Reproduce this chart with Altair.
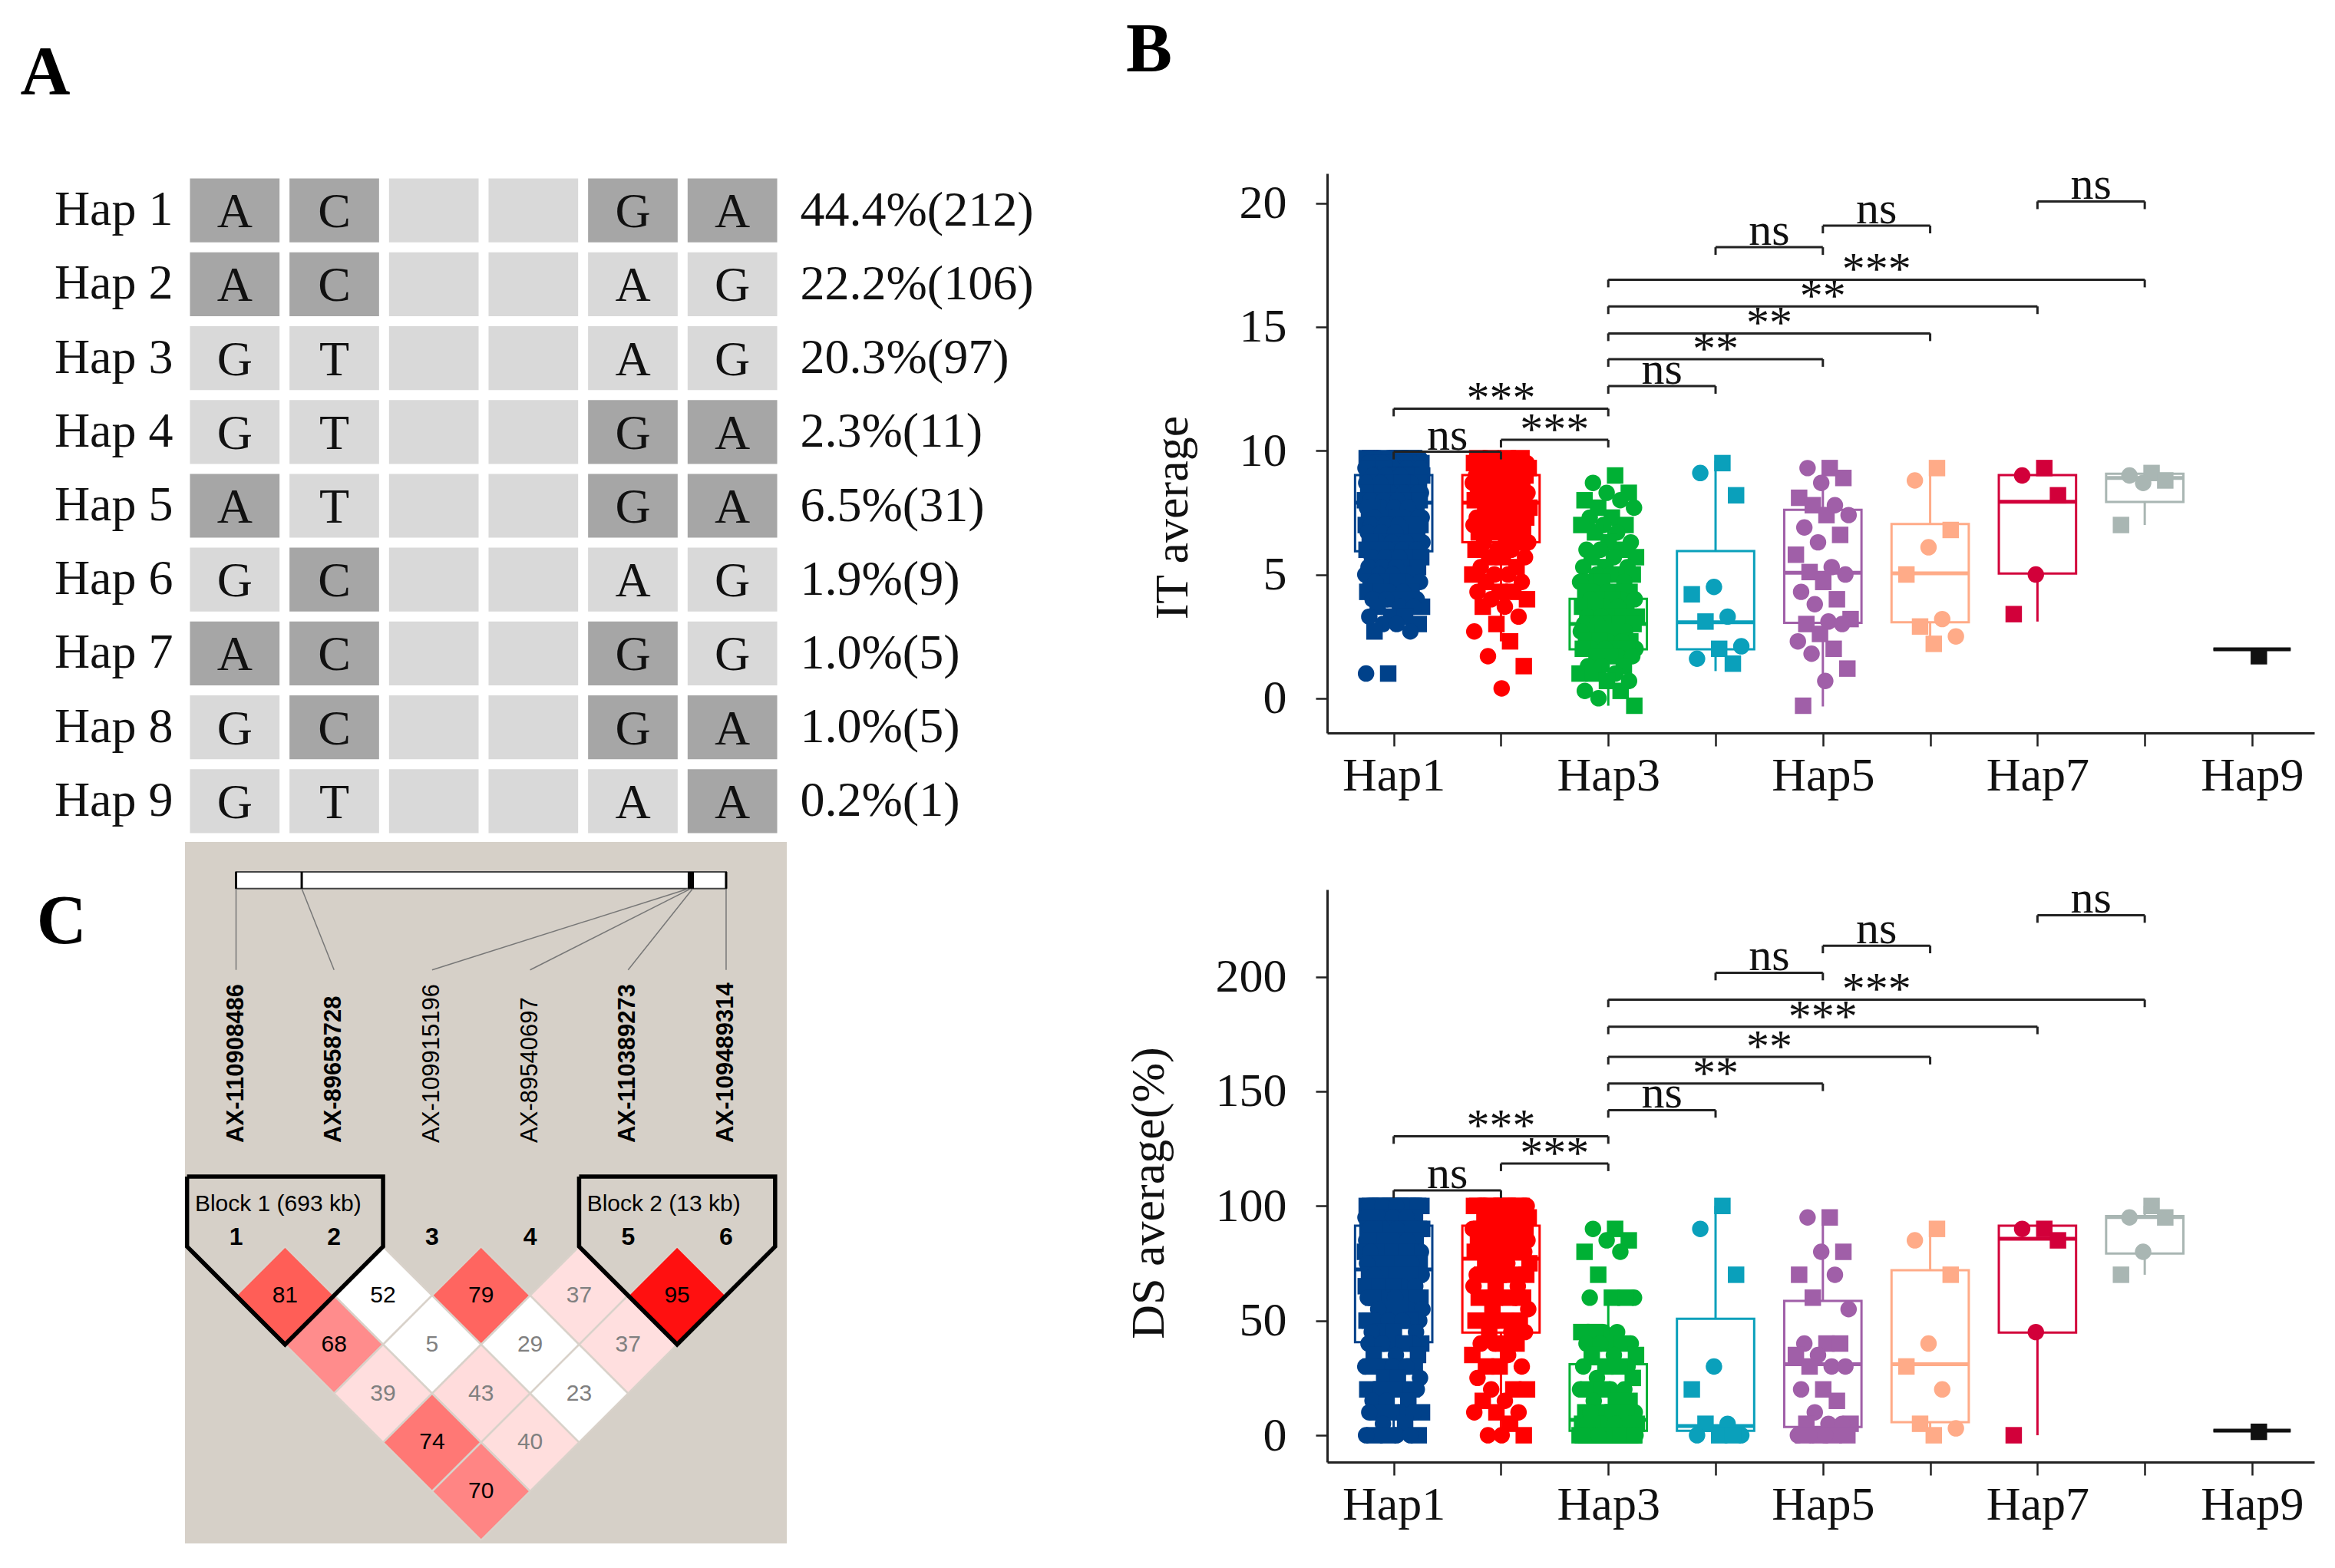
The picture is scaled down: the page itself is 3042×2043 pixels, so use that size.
import altair as alt
import pandas as pd

SERIF = "Liberation Serif"
SANS = "Liberation Sans"

# ---------------- Panel A : haplotype table ----------------
HAP_NAMES = ["Hap 1", "Hap 2", "Hap 3", "Hap 4", "Hap 5", "Hap 6", "Hap 7", "Hap 8", "Hap 9"]
HAP_ALLELES = ["AC--GA", "AC--AG", "GT--AG", "GT--GA", "AT--GA", "GC--AG", "AC--GG", "GC--GA", "GT--AA"]
DARK_ALLELE = ["A", "C", "", "", "G", "A"]
HAP_PCT = ["44.4", "22.2", "20.3", "2.3", "6.5", "1.9", "1.0", "1.0", "0.2"]
HAP_COUNT = [212, 106, 97, 11, 31, 9, 5, 5, 1]

# ---------------- Panel C : LD plot ----------------
SNP_IDS = ["AX-110908486", "AX-89658728", "AX-109915196", "AX-89540697", "AX-110389273", "AX-109489314"]
SNP_IN_BLOCK = [True, True, False, False, True, True]
SNP_BAR_POS = [1.0, 1.67, 5.62, 5.64, 5.66, 6.0]
LD_FIRST = [1, 2, 3, 4, 5, 1, 2, 3, 4, 1, 2, 3, 1, 2, 1]
LD_SECOND = [2, 3, 4, 5, 6, 3, 4, 5, 6, 4, 5, 6, 5, 6, 6]
LD_DPRIME = [81, 52, 79, 37, 95, 68, 5, 29, 37, 39, 43, 23, 74, 40, 70]
LD_STRONG = [True, False, True, True, True, True, False, False, True, True, True, False, True, True, True]
BLOCK_FIRST = [1, 5]
BLOCK_LAST = [2, 6]
BLOCK_KB = [693, 13]

# ---------------- Panel B : box plots ----------------
BOX_HAPS = ["Hap1", "Hap2", "Hap3", "Hap4", "Hap5", "Hap6", "Hap7", "Hap8", "Hap9"]
HAP_COLORS = ["#00418a", "#ff0000", "#00b034", "#0aa0bb", "#a05fa8", "#ffab88", "#d2003a", "#a9b6b3", "#111111"]

IT_HAP1_VALUES = [9.7, 9.5, 9.3, 9.0, 8.7, 8.3, 8.0, 7.7, 7.3, 7.0, 6.7, 6.3, 6.0, 5.7, 5.3, 5.0, 4.7, 4.3, 4.0, 3.7, 3.3, 3.0, 2.7, 1.0]
IT_HAP1_COUNTS = [14, 14, 14, 14, 14, 14, 14, 10, 12, 12, 8, 10, 10, 6, 8, 8, 6, 5, 5, 4, 3, 3, 2, 2]
IT_HAP2_VALUES = [9.7, 9.5, 9.3, 9.0, 8.7, 8.3, 8.0, 7.7, 7.3, 7.0, 6.7, 6.3, 6.0, 5.7, 5.3, 5.0, 4.7, 4.3, 4.0, 3.7, 3.3, 3.0, 2.7, 2.3, 1.7, 1.3, 0.4]
IT_HAP2_COUNTS = [7, 7, 8, 8, 8, 7, 7, 6, 6, 6, 5, 4, 3, 3, 2, 3, 2, 3, 2, 2, 1, 1, 1, 1, 1, 1, 1]
IT_HAP3_VALUES = [9.0, 8.7, 8.3, 8.0, 7.7, 7.3, 7.0, 6.7, 6.3, 6.0, 5.7, 5.3, 5.0, 4.7, 4.3, 4.0, 3.7, 3.3, 3.0, 2.7, 2.3, 2.0, 1.7, 1.3, 1.0, 0.7, 0.3, 0.0, -0.3]
IT_HAP3_COUNTS = [1, 1, 2, 2, 2, 2, 3, 2, 2, 3, 3, 3, 4, 4, 5, 5, 5, 6, 8, 6, 6, 6, 4, 3, 3, 2, 2, 1, 1]
IT_HAP4 = [9.5, 9.1, 8.2, 4.5, 4.2, 3.3, 3.1, 2.1, 2.0, 1.6, 1.4]
IT_HAP5 = [9.3, 9.3, 8.9, 8.7, 8.1, 7.8, 7.8, 7.4, 7.4, 6.9, 6.6, 6.3, 5.8, 5.3, 5.1, 5.0, 4.7, 4.3, 4.0, 3.8, 3.2, 3.1, 3.0, 3.0, 2.6, 2.3, 2.0, 1.8, 1.2, 0.7, -0.3]
IT_HAP6 = [9.3, 8.8, 6.8, 6.1, 5.0, 3.2, 2.9, 2.5, 2.2]
IT_HAP7 = [9.3, 9.0, 8.2, 5.0, 3.4]
IT_HAP8 = [9.1, 9.0, 8.8, 8.7, 7.0]
IT_HAP9 = [1.7]

IT_Q1 = [5.94, 6.3, 1.98, 1.98, 3.05, 3.07, 5.04, 7.93, 1.98]
IT_MED = [7.9, 7.9, 3.0, 3.07, 5.07, 5.05, 7.94, 8.9, 1.98]
IT_Q3 = [9.02, 9.02, 4.02, 5.95, 7.61, 7.04, 9.02, 9.07, 1.98]
IT_LO = [2.7, 2.3, -0.3, 1.1, -0.33, 2.2, 3.1, 7.0, 1.98]
IT_HI = [9.7, 9.7, 7.0, 9.6, 9.35, 9.35, 9.02, 9.1, 1.98]

DS_LEVELS = [100, 95, 90, 85, 80, 75, 70, 65, 60, 55, 50, 45, 40, 35, 30, 25, 20, 15, 10, 5, 0]
DS_HAP1_COUNTS = [30, 10, 25, 10, 20, 8, 18, 6, 14, 5, 12, 4, 10, 3, 9, 3, 8, 3, 6, 2, 6]
DS_HAP2_COUNTS = [18, 6, 14, 5, 10, 4, 8, 3, 6, 2, 5, 3, 4, 2, 3, 1, 3, 2, 3, 1, 3]
DS_HAP3_VALUES = [90, 85, 80, 70, 60, 45, 40, 35, 30, 25, 20, 15, 10, 5, 0]
DS_HAP3_COUNTS = [2, 2, 2, 1, 4, 4, 5, 3, 4, 2, 5, 3, 8, 12, 40]
DS_HAP4 = [100, 90, 70, 30, 20, 5, 5, 0, 0, 0, 0]
DS_HAP5 = [95, 95, 80, 80, 70, 70, 60, 55, 40, 40, 40, 35, 35, 30, 30, 30, 20, 20, 15, 10, 5, 5, 5, 5, 0, 0, 0, 0, 0, 0, 0]
DS_HAP6 = [90, 85, 70, 40, 30, 20, 5, 3, 0]
DS_HAP7 = [90, 90, 85, 45, 0]
DS_HAP8 = [100, 95, 95, 80, 70]
DS_HAP9 = [1.5]

DS_Q1 = [40.6, 44.8, 1.9, 1.9, 3.6, 5.7, 44.8, 79.3, 2.0]
DS_MED = [72.3, 77.0, 6.7, 4.0, 31.0, 31.0, 85.7, 95.2, 2.0]
DS_Q3 = [91.4, 91.4, 31.0, 50.8, 58.6, 72.0, 91.4, 95.6, 2.0]
DS_LO = [0, 0, 0, 0, 0, 0, 0, 70, 2.0]
DS_HI = [100, 100, 60, 100, 96, 90, 91.4, 100, 2.0]

CMP_A = [1, 2, 1, 3, 3, 3, 3, 3, 4, 5, 7]
CMP_B = [2, 3, 3, 4, 5, 6, 7, 8, 5, 6, 8]
IT_CMP_LABEL = ["ns", "***", "***", "ns", "**", "**", "**", "***", "ns", "ns", "ns"]
IT_CMP_Y = [9.96, 10.44, 11.70, 12.61, 13.70, 14.74, 15.83, 16.91, 18.22, 19.09, 20.07]
DS_CMP_LABEL = ["ns", "***", "***", "ns", "**", "**", "***", "***", "ns", "ns", "ns"]
DS_CMP_Y = [106.8, 118.5, 130.4, 141.8, 153.4, 165.0, 178.2, 190.0, 201.7, 213.5, 226.8]


# =============== build panel A ===============
cols = [f"c{i}" for i in range(1, 7)]
rows_a = []
for h, al in zip(HAP_NAMES, HAP_ALLELES):
    for c in range(6):
        ch = al[c]
        rows_a.append({"hap": h, "col": cols[c],
                       "allele": "" if ch == "-" else ch,
                       "shade": "dark" if ch == DARK_ALLELE[c] else "light"})
df_a = pd.DataFrame(rows_a)
pct_labels = [f"{p}%({n})" for p, n in zip(HAP_PCT, HAP_COUNT)]
label_expr = ("[" + ",".join(f"'{l}'" for l in pct_labels) + "][indexof([" +
              ",".join(f"'{h}'" for h in HAP_NAMES) + "], datum.value)]")

ya_scale = alt.Scale(domain=HAP_NAMES, paddingInner=0.135, paddingOuter=0.0675)
xa = alt.X("col:N", scale=alt.Scale(domain=cols, paddingInner=0.1, paddingOuter=0.05), axis=None)
cells = alt.Chart(df_a).mark_rect().encode(
    x=xa,
    y=alt.Y("hap:N", scale=ya_scale,
            axis=alt.Axis(orient="left", title=None, domain=False, ticks=False, labelFont=SERIF,
                          labelFontSize=64, labelColor="#111", labelPadding=16, labelLimit=1000)),
    fill=alt.Fill("shade:N", scale=alt.Scale(domain=["dark", "light"], range=["#a6a6a6", "#d9d9d9"]),
                  legend=None),
)
letters = alt.Chart(df_a).mark_text(font=SERIF, fontSize=64, color="#111", baseline="middle", dy=3).encode(
    x=xa,
    y=alt.Y("hap:N", scale=ya_scale,
            axis=alt.Axis(orient="right", title=None, domain=False, ticks=False, labelExpr=label_expr,
                          labelFont=SERIF, labelFontSize=64, labelColor="#111", labelPadding=23,
                          labelLimit=1000)),
    text="allele:N",
)
panel_a = alt.layer(cells, letters).resolve_scale(y="independent").resolve_axis(y="independent").properties(
    width=778, height=866,
    title=alt.TitleParams("A", anchor="start", font=SERIF, fontSize=90, fontWeight="bold", color="#000",
                          dx=-44, offset=84),
)

# =============== build panel C ===============
xs_c = alt.Scale(domain=[0.479, 6.619], nice=False, zero=False)
ys_c = alt.Scale(domain=[-8.263, 6.063], reverse=True, nice=False, zero=False)


def XC(f):
    return alt.X(f, type="quantitative", scale=xs_c, axis=None)


def YC(f):
    return alt.Y(f, type="quantitative", scale=ys_c, axis=None)


def YCD(v):
    return alt.YDatum(v, scale=ys_c, axis=None)


def XCD(v):
    return alt.XDatum(v, scale=xs_c, axis=None)


df_ld = pd.DataFrame({"i": LD_FIRST, "j": LD_SECOND, "val": LD_DPRIME, "strong": LD_STRONG})
df_snp = pd.DataFrame({"idx": list(range(1, 7)), "snp": SNP_IDS, "blk": SNP_IN_BLOCK, "bar": SNP_BAR_POS})
blk_rows = []
for b, (s, e, kb) in enumerate(zip(BLOCK_FIRST, BLOCK_LAST, BLOCK_KB)):
    verts = [(s - 0.5, -1.43), (e + 0.5, -1.43), (e + 0.5, 0.0), ((s + e) / 2, e - s + 1), (s - 0.5, 0.0),
             (s - 0.5, -1.43)]
    for k, (vx, vy) in enumerate(verts):
        blk_rows.append({"block": b, "k": k, "vx": vx, "vy": vy})
df_blk = pd.DataFrame(blk_rows)
df_blk_lab = pd.DataFrame({"lx": [s - 0.42 for s in BLOCK_FIRST],
                           "lab": [f"Block {n + 1} ({kb} kb)" for n, kb in enumerate(BLOCK_KB)]})
df_bar = pd.DataFrame({"b1": [SNP_BAR_POS[0]], "b2": [SNP_BAR_POS[-1]]})

ld_base = alt.Chart(df_ld).transform_calculate(cx="(datum.i + datum.j) / 2", dep="datum.j - datum.i")
diamonds = ld_base.mark_point(shape="diamond", filled=True, size=16282, stroke="#d9d2ca", strokeWidth=2.5,
                              opacity=1).encode(
    x=XC("cx"), y=YC("dep"),
    fill=alt.condition("datum.strong",
                       alt.Fill("val:Q", scale=alt.Scale(domain=[37, 43, 68, 95],
                                                         range=["#ffdfdf", "#ffdcdc", "#ff8c8c", "#ff1010"]),
                                legend=None),
                       alt.value("#ffffff")),
)
ld_text = ld_base.mark_text(font=SANS, fontSize=30, baseline="middle").encode(
    x=XC("cx"), y=YC("dep"), text="val:Q",
    color=alt.condition("datum.val >= 50", alt.value("#000000"), alt.value("#808080")),
)
blk_line = alt.Chart(df_blk).mark_line(color="#000", strokeWidth=5.5, strokeJoin="miter").encode(
    x=XC("vx"), y=YC("vy"), order="k:Q", detail="block:N")
blk_text = alt.Chart(df_blk_lab).mark_text(font=SANS, fontSize=30, align="left", baseline="middle",
                                           color="#000").encode(x=XC("lx"), y=YCD(-0.87), text="lab:N")
num_text = alt.Chart(df_snp).mark_text(font=SANS, fontSize=32, fontWeight="bold", baseline="middle",
                                       color="#000").encode(x=XC("idx"), y=YCD(-0.19), text="idx:Q")
bar = alt.Chart(df_bar).mark_rect(fill="#ffffff", stroke="#444", strokeWidth=2).encode(
    x=XC("b1"), x2="b2", y=YCD(-7.65), y2=alt.Y2Datum(-7.31))
bar_ticks = alt.Chart(df_snp).mark_rule(color="#000", strokeWidth=3).encode(
    x=XC("bar"), y=YCD(-7.65), y2=alt.Y2Datum(-7.31))
connectors = alt.Chart(df_snp).mark_rule(color="#777", strokeWidth=1.5).encode(
    x=XC("bar"), x2="idx", y=YCD(-7.31), y2=alt.Y2Datum(-5.65))
snp_bold = alt.Chart(df_snp).transform_filter("datum.blk").mark_text(
    font=SANS, fontSize=31, fontWeight="bold", angle=270, align="left", baseline="middle", color="#000").encode(
    x=XC("idx"), y=YCD(-2.12), text="snp:N")
snp_norm = alt.Chart(df_snp).transform_filter("!datum.blk").mark_text(
    font=SANS, fontSize=31, angle=270, align="left", baseline="middle", color="#000").encode(
    x=XC("idx"), y=YCD(-2.12), text="snp:N")
c_letter = alt.Chart(pd.DataFrame({"t": ["C"]})).mark_text(
    font=SERIF, fontSize=90, fontWeight="bold", baseline="middle", align="center", color="#000").encode(
    x=XCD(-0.78), y=YCD(-6.62), text="t:N")

panel_c = alt.layer(bar, connectors, bar_ticks, snp_bold, snp_norm, diamonds, ld_text, blk_line, blk_text,
                    num_text, c_letter).properties(
    width=784, height=914, view=alt.ViewBackground(fill="#d6d0c8", stroke=None))


# =============== build panel B ===============
def expand(values, counts):
    out = []
    for v, n in zip(values, counts):
        out += [v] * n
    return out


it_points = [expand(IT_HAP1_VALUES, IT_HAP1_COUNTS), expand(IT_HAP2_VALUES, IT_HAP2_COUNTS),
             expand(IT_HAP3_VALUES, IT_HAP3_COUNTS), IT_HAP4, IT_HAP5, IT_HAP6, IT_HAP7, IT_HAP8, IT_HAP9]
ds_points = [expand(DS_LEVELS, DS_HAP1_COUNTS), expand(DS_LEVELS, DS_HAP2_COUNTS),
             expand(DS_HAP3_VALUES, DS_HAP3_COUNTS), DS_HAP4, DS_HAP5, DS_HAP6, DS_HAP7, DS_HAP8, DS_HAP9]


def box_panel(points, q1, med, q3, lo, hi, cmp_lab, cmp_y, ydom, yvals, ytitle, title_y, tick_len,
              width, height, title=None):
    rows = []
    for k, (h, vals) in enumerate(zip(BOX_HAPS, points)):
        for v in vals:
            rows.append({"hap": h, "idx": k + 1, "v": v})
    df_p = pd.DataFrame(rows)
    df_b = pd.DataFrame({"hap": BOX_HAPS, "idx": list(range(1, 10)), "q1": q1, "med": med, "q3": q3,
                         "lo": lo, "hi": hi})
    df_c = pd.DataFrame({"a": CMP_A, "b": CMP_B, "lab": cmp_lab, "y": cmp_y})

    xs = alt.Scale(domain=[0.38, 9.58], nice=False, zero=False)
    ys = alt.Scale(domain=ydom, nice=False, zero=False)
    xaxis = alt.Axis(values=list(range(1, 10)), labelExpr="datum.value % 2 == 1 ? 'Hap' + datum.value : ''",
                     title=None, grid=False, domainColor="#222", domainWidth=3, tickColor="#222",
                     tickWidth=2.5, tickSize=17, labelFont=SERIF, labelFontSize=62, labelColor="#111",
                     labelPadding=8, labelOverlap=False, labelLimit=1000, labelFlush=False)
    yaxis = alt.Axis(values=yvals, title=ytitle, grid=False, domainColor="#222", domainWidth=3,
                     tickColor="#222", tickWidth=2.5, tickSize=15, labelFont=SERIF, labelFontSize=62,
                     labelColor="#111", labelPadding=38, labelLimit=1000, titleFont=SERIF,
                     titleFontSize=62, titleFontWeight="normal", titleColor="#111", titlePadding=55,
                     titleY=title_y)

    def X(f):
        return alt.X(f, type="quantitative", scale=xs, axis=xaxis)

    def Y(f):
        return alt.Y(f, type="quantitative", scale=ys, axis=yaxis)

    color = alt.Color("hap:N", scale=alt.Scale(domain=BOX_HAPS, range=HAP_COLORS), legend=None)

    bb = alt.Chart(df_b).transform_calculate(x1="datum.idx - 0.36", x2="datum.idx + 0.36")
    box = bb.mark_rect(filled=False, strokeWidth=3).encode(x=X("x1"), x2="x2", y=Y("q1"), y2="q3", color=color)
    wlo = bb.mark_rule(strokeWidth=3).encode(x=X("idx"), y=Y("lo"), y2="q1", color=color)
    whi = bb.mark_rule(strokeWidth=3).encode(x=X("idx"), y=Y("q3"), y2="hi", color=color)
    medl = bb.mark_rule(strokeWidth=5).encode(x=X("x1"), x2="x2", y=Y("med"), color=color)

    pts = alt.Chart(df_p).transform_window(rn="row_number()", groupby=["hap"]).transform_calculate(
        px="datum.idx + ((datum.rn * 0.618034) % 1 - 0.5) * 0.54",
        shp="datum.rn % 2 == 0 ? 'circle' : 'square'",
    ).mark_point(filled=True, size=460, opacity=1).encode(
        x=X("px"), y=Y("v"), color=color,
        shape=alt.Shape("shp:N", scale=alt.Scale(domain=["circle", "square"], range=["circle", "square"]),
                        legend=None))

    cb = alt.Chart(df_c)
    br_line = cb.mark_rule(color="#222", strokeWidth=3).encode(x=X("a"), x2="b", y=Y("y"))
    br_l = cb.transform_calculate(yb=f"datum.y - {tick_len}").mark_rule(color="#222", strokeWidth=3).encode(
        x=X("a"), y=Y("y"), y2="yb")
    br_r = cb.transform_calculate(yb=f"datum.y - {tick_len}").mark_rule(color="#222", strokeWidth=3).encode(
        x=X("b"), y=Y("y"), y2="yb")
    cm = cb.transform_calculate(mx="(datum.a + datum.b) / 2")
    t_ns = cm.transform_filter("datum.lab == 'ns'").mark_text(
        font=SERIF, fontSize=60, baseline="alphabetic", dy=-3, color="#111").encode(
        x=X("mx"), y=Y("y"), text="lab:N")
    t_st = cm.transform_filter("datum.lab != 'ns'").mark_text(
        font=SERIF, fontSize=60, baseline="alphabetic", dy=6, color="#111").encode(
        x=X("mx"), y=Y("y"), text="lab:N")

    props = dict(width=width, height=height)
    if title is not None:
        props["title"] = title
    return alt.layer(box, wlo, whi, medl, pts, br_line, br_l, br_r, t_ns, t_st).properties(**props)


b_title = alt.TitleParams("B", anchor="start", font=SERIF, fontSize=90, fontWeight="bold", color="#000",
                          dx=-29, offset=99)
panel_b1 = box_panel(it_points, IT_Q1, IT_MED, IT_Q3, IT_LO, IT_HI, IT_CMP_LABEL, IT_CMP_Y,
                     [-1.4, 21.2], [0, 5, 10, 15, 20], "IT average", 448, 0.31, 1286, 729, b_title)
panel_b2 = box_panel(ds_points, DS_Q1, DS_MED, DS_Q3, DS_LO, DS_HI, DS_CMP_LABEL, DS_CMP_Y,
                     [-11.7, 238], [0, 50, 100, 150, 200], "DS average(%)", 395, 3.3, 1286, 746)

left = alt.vconcat(panel_a, panel_c, spacing=5).resolve_scale(color="independent", fill="independent")
right = alt.vconcat(panel_b1, panel_b2, spacing=100)

chart = alt.hconcat(left, right, spacing=119).resolve_scale(
    color="independent", fill="independent", shape="independent"
).properties(
    padding={"left": 18, "top": 13, "right": 5, "bottom": 5}, background="white"
).configure_view(stroke=None)

chart.save("out.html", embed_options={"renderer": "svg", "actions": False})
